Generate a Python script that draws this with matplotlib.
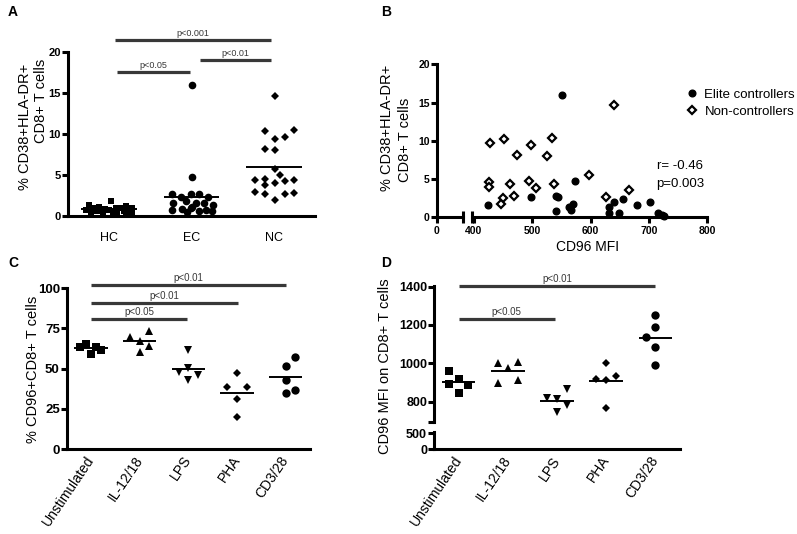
"""
CD96 / activation figure - four panels (A-D), GraphPad-style scatter dot plots
"""

import numpy as np
import matplotlib
matplotlib.use('Agg')
import matplotlib.pyplot as plt
from matplotlib.lines import Line2D

plt.rcParams['font.family'] = ['Liberation Sans', 'DejaVu Sans']

W, H = 797, 534
BAR_COLOR = '#383838'

# ── Panel A: % CD38+HLA-DR+ CD8+ T cells per group ───────────────────────────
a_groups = ['HC', 'EC', 'NC']
a_hc  = [1.8, 1.3, 1.2, 1.1, 1.0, 1.0, 0.9, 0.9, 0.8, 0.8,
         0.7, 0.7, 0.6, 0.6, 0.5, 0.5, 0.5, 0.4, 0.4, 0.3]
a_hc_jit = [0.02, -0.25, 0.2, -0.12, 0.08, 0.28, -0.2, 0.14, -0.05, 0.25,
            -0.28, 0.0, 0.18, -0.15, 0.1, -0.22, 0.28, -0.08, 0.05, 0.2]
a_ec  = [16.0, 4.7, 2.7, 2.3, 2.65, 2.7, 2.3, 1.5, 1.8, 1.6,
         1.5, 1.3, 0.7, 0.8, 0.9, 0.6, 0.7, 0.6, 1.1, 0.5]
a_ec_jit = [0.01, 0.01, -0.24, -0.13, -0.01, 0.09, 0.2, -0.22, -0.07, 0.05,
            0.15, 0.26, -0.24, -0.11, -0.01, 0.09, 0.18, 0.25, 0.0, -0.05]
a_nc  = [14.65, 10.4, 10.5, 9.4, 9.6, 8.2, 8.1, 5.7, 5.0, 4.4,
         4.45, 3.8, 4.0, 4.2, 4.4, 2.9, 2.7, 2.7, 2.8, 1.9]
a_nc_jit = [0.01, -0.11, 0.25, 0.01, 0.13, -0.11, 0.01, 0.01, 0.07, -0.23,
            -0.11, -0.11, 0.01, 0.13, 0.25, -0.23, -0.11, 0.13, 0.25, 0.01]
a_sig = [(0.09, 0.98, 17.6, 'p<0.05'),
         (1.1, 1.97, 19.0, 'p<0.01'),
         (0.07, 1.97, 21.5, 'p<0.001')]

# ── Panel B: activation vs CD96 MFI ──────────────────────────────────────────
b_ec_mfi = [551, 573, 424, 498, 541, 544, 540, 569, 563, 567,
            631, 640, 631, 648, 655, 679, 702, 715, 722, 725]
b_ec_act = [16.0, 4.7, 1.6, 2.7, 2.8, 2.6, 0.8, 1.8, 1.3, 1.0,
            1.3, 2.0, 0.6, 0.6, 2.4, 1.6, 2.0, 0.5, 0.3, 0.2]
b_nc_mfi = [427, 452, 498, 533, 474, 525, 640, 426, 426, 461,
            495, 507, 537, 469, 449, 446, 598, 665, 627]
b_nc_act = [9.7, 10.3, 9.4, 10.4, 8.1, 8.0, 14.7, 4.6, 4.0, 4.3,
            4.8, 3.8, 4.3, 2.8, 2.5, 1.8, 5.5, 3.6, 2.6]
b_stats = ['r= -0.46', 'p=0.003']

# ── Panels C and D: stimulation conditions ───────────────────────────────────
stim_labels = ['Unstimulated', 'IL-12/18', 'LPS', 'PHA', 'CD3/28']
stim_markers = ['s', '^', 'v', 'D', 'o']
stim_sizes = [5.5, 6, 6, 3.6, 6]

c_vals = [[63.3, 65.2, 59.4, 63.7, 61.9],
          [69.5, 60.4, 73.2, 67.4, 64.3],
          [61.5, 50.6, 47.9, 43.1, 46.2],
          [47.3, 38.5, 38.5, 31.3, 19.8],
          [51.5, 57.3, 43.1, 34.8, 36.9]]
c_jit = [[-0.22, -0.1, 0.0, 0.1, 0.2],
         [-0.2, 0.0, 0.2, 0.0, 0.2],
         [0.0, 0.0, -0.2, 0.0, 0.2],
         [0.0, -0.2, 0.2, 0.0, 0.0],
         [0.0, 0.2, 0.0, 0.0, 0.2]]
c_sig = [(0, 1.97, 80.8, 'p<0.05'),
         (0, 3.03, 91.0, 'p<0.01'),
         (0, 4.0, 102.0, 'p<0.01')]

d_vals = [[962, 918, 890, 885, 847],
          [1003, 1007, 974, 899, 913],
          [817, 814, 864, 746, 784],
          [1000, 916, 913, 934, 765],
          [1250, 1190, 1136, 1087, 991]]
d_jit = [[-0.2, 0.0, -0.2, 0.2, 0.0],
         [-0.2, 0.2, 0.0, -0.2, 0.2],
         [-0.2, 0.0, 0.2, 0.0, 0.2],
         [0.0, -0.2, 0.0, 0.2, 0.0],
         [0.0, 0.0, -0.2, 0.0, 0.0]]
d_sig = [(0, 1.95, 1230, 'p<0.05'),
         (0, 4.0, 1405, 'p<0.01')]


def px_axes(fig, x0, y_top, x1, y_bot):
    """Add axes from pixel box (origin top-left)."""
    return fig.add_axes([x0 / W, 1 - y_bot / H, (x1 - x0) / W, (y_bot - y_top) / H])


def prism_style(ax, lw=2.2, left=True, bottom=True):
    for s in ['top', 'right']:
        ax.spines[s].set_visible(False)
    ax.spines['left'].set_visible(left)
    ax.spines['bottom'].set_visible(bottom)
    for s in ['left', 'bottom']:
        ax.spines[s].set_linewidth(lw)
    ax.tick_params(width=lw, length=4, color='k')
    ax.tick_params(axis='y', pad=1)
    ax.patch.set_alpha(0)


def bold_ticks(labels, size):
    for t in labels:
        t.set_fontweight('bold')
        t.set_fontsize(size)


def sig_bars(ax, bars, fs=7):
    for x0, x1, y, txt in bars:
        ax.plot([x0, x1], [y, y], color=BAR_COLOR, lw=2.3,
                solid_capstyle='butt', clip_on=False)
        ax.annotate(txt, ((x0 + x1) / 2, y), xytext=(0, 1.5),
                    textcoords='offset points', ha='center', va='bottom',
                    fontsize=fs, color=BAR_COLOR, annotation_clip=False)


def dot_group(ax, i, vals, jit, marker, ms, mean_w=0.34, mfc='k', mew=0):
    ax.plot(i + np.array(jit), vals, linestyle='none', marker=marker,
            markersize=ms, color='k', mfc=mfc, mew=mew, clip_on=False)
    ax.hlines(np.mean(vals), i - mean_w, i + mean_w, color='k', lw=1.4)


def rotated_xlabels(ax, labels):
    ax.set_xticks(range(len(labels)))
    ax.set_xticklabels(labels, rotation=56, ha='right', va='center',
                       rotation_mode='anchor', fontsize=10)
    ax.tick_params(axis='x', length=0, pad=6)


fig = plt.figure(figsize=(W / 100, H / 100), dpi=100)

# ── A ────────────────────────────────────────────────────────────────────────
ax_a = px_axes(fig, 68, 52.3, 315, 215.7)
prism_style(ax_a)
ax_a.set_xlim(-0.5, 2.5)
ax_a.set_ylim(0, 20)
dot_group(ax_a, 0, a_hc, a_hc_jit, 's', 5)
dot_group(ax_a, 1, a_ec, a_ec_jit, 'o', 5.5)
dot_group(ax_a, 2, a_nc, a_nc_jit, 'D', 3.9)
ax_a.set_yticks([0, 5, 10, 15, 20])
bold_ticks(ax_a.get_yticklabels(), 8)
ax_a.set_xticks(range(3))
ax_a.set_xticklabels(a_groups, fontsize=9)
ax_a.tick_params(axis='x', length=0, pad=12)
sig_bars(ax_a, a_sig, fs=6.5)
fig.text(25 / W, 1 - 127 / H, '% CD38+HLA-DR+', rotation=90,
         ha='center', va='center', fontsize=10.5)
fig.text(41 / W, 1 - 101 / H, 'CD8+ T cells', rotation=90,
         ha='center', va='center', fontsize=10.5)

# ── B (broken x axis) ───────────────────────────────────────────────────────
ax_b0 = px_axes(fig, 436.7, 64.3, 462.7, 217.3)
ax_b1 = px_axes(fig, 472.25, 64.3, 707.3, 217.3)
prism_style(ax_b0)
prism_style(ax_b1, left=False)
ax_b0.set_xlim(0, 45)
ax_b1.set_xlim(397, 800)
for ax in (ax_b0, ax_b1):
    ax.set_ylim(0, 20)
ax_b0.set_yticks([0, 5, 10, 15, 20])
bold_ticks(ax_b0.get_yticklabels(), 7.5)
ax_b0.set_xticks([0])
ax_b0.set_xticks([45], minor=True)
bold_ticks(ax_b0.get_xticklabels(), 7.5)
ax_b1.set_yticks([])
ax_b1.set_xticks([400, 500, 600, 700, 800])
ax_b1.set_xticks([397], minor=True)
bold_ticks(ax_b1.get_xticklabels(), 7.5)
for ax in (ax_b0, ax_b1):
    ax.tick_params(axis='x', which='minor', direction='inout', length=8, width=2.2)
    ax.tick_params(axis='x', which='major', pad=2)

ax_b1.plot(b_ec_mfi, b_ec_act, linestyle='none', marker='o', markersize=4.8,
           color='k', clip_on=False)
ax_b1.plot(b_nc_mfi, b_nc_act, linestyle='none', marker='D', markersize=3.6,
           color='k', mfc='white', mew=1.6, clip_on=False)
ax_b1.text(713, 6.7, b_stats[0], va='center', ha='left', fontsize=9.5)
ax_b1.text(713, 4.4, b_stats[1], va='center', ha='left', fontsize=9.5)

handles = [Line2D([], [], linestyle='none', marker='o', markersize=4.8, color='k'),
           Line2D([], [], linestyle='none', marker='D', markersize=3.6, color='k',
                  mfc='white', mew=1.6)]
fig.legend(handles, ['Elite controllers', 'Non-controllers'],
           loc='center left', bbox_to_anchor=(686 / W, 1 - 103.3 / H),
           frameon=False, fontsize=9.5, handlelength=0.9, handletextpad=0.5,
           labelspacing=0.35, borderpad=0, borderaxespad=0)

fig.text(588 / W, 1 - 246.7 / H, 'CD96 MFI', ha='center', va='center', fontsize=10)
fig.text(387 / W, 1 - 128 / H, '% CD38+HLA-DR+', rotation=90,
         ha='center', va='center', fontsize=10.5)
fig.text(405 / W, 1 - 140 / H, 'CD8+ T cells', rotation=90,
         ha='center', va='center', fontsize=10.5)

# ── C ────────────────────────────────────────────────────────────────────────
ax_c = px_axes(fig, 66.7, 288.3, 310, 449)
prism_style(ax_c)
ax_c.set_xlim(-0.5, 4.5)
ax_c.set_ylim(0, 100)
for i in range(5):
    dot_group(ax_c, i, c_vals[i], c_jit[i], stim_markers[i], stim_sizes[i])
ax_c.set_yticks([0, 25, 50, 75, 100])
bold_ticks(ax_c.get_yticklabels(), 9.5)
rotated_xlabels(ax_c, stim_labels)
sig_bars(ax_c, c_sig)
fig.text(33 / W, 1 - 369 / H, '% CD96+CD8+ T cells', rotation=90,
         ha='center', va='center', fontsize=10.5)

# ── D (broken y axis) ───────────────────────────────────────────────────────
ax_d = px_axes(fig, 434, 285.7, 680, 421.7)
ax_d_low = px_axes(fig, 434, 431.7, 680, 449.3)
prism_style(ax_d, bottom=False)
prism_style(ax_d_low)
for ax in (ax_d, ax_d_low):
    ax.set_xlim(-0.5, 4.5)
ax_d.set_ylim(695, 1405)
ax_d_low.set_ylim(0, 550)
for i in range(5):
    dot_group(ax_d, i, d_vals[i], d_jit[i], stim_markers[i], stim_sizes[i])
ax_d.set_xticks([])
ax_d.set_yticks([800, 1000, 1200, 1400])
ax_d.set_yticks([695], minor=True)
ax_d.tick_params(axis='y', which='minor', length=4, width=2.2)
bold_ticks(ax_d.get_yticklabels(), 9)
ax_d_low.set_yticks([0, 500])
bold_ticks(ax_d_low.get_yticklabels(), 9)
rotated_xlabels(ax_d_low, stim_labels)
sig_bars(ax_d, d_sig)
fig.text(385 / W, 1 - 366 / H, 'CD96 MFI on CD8+ T cells', rotation=90,
         ha='center', va='center', fontsize=10.5)

# ── panel letters ───────────────────────────────────────────────────────────
for letter, (px, py) in zip('ABCD', [(13, 12), (386, 12), (13, 263), (386, 263)]):
    fig.text(px / W, 1 - py / H, letter, ha='center', va='center',
             fontsize=10, fontweight='bold')

fig.savefig('out.png', dpi=100)
